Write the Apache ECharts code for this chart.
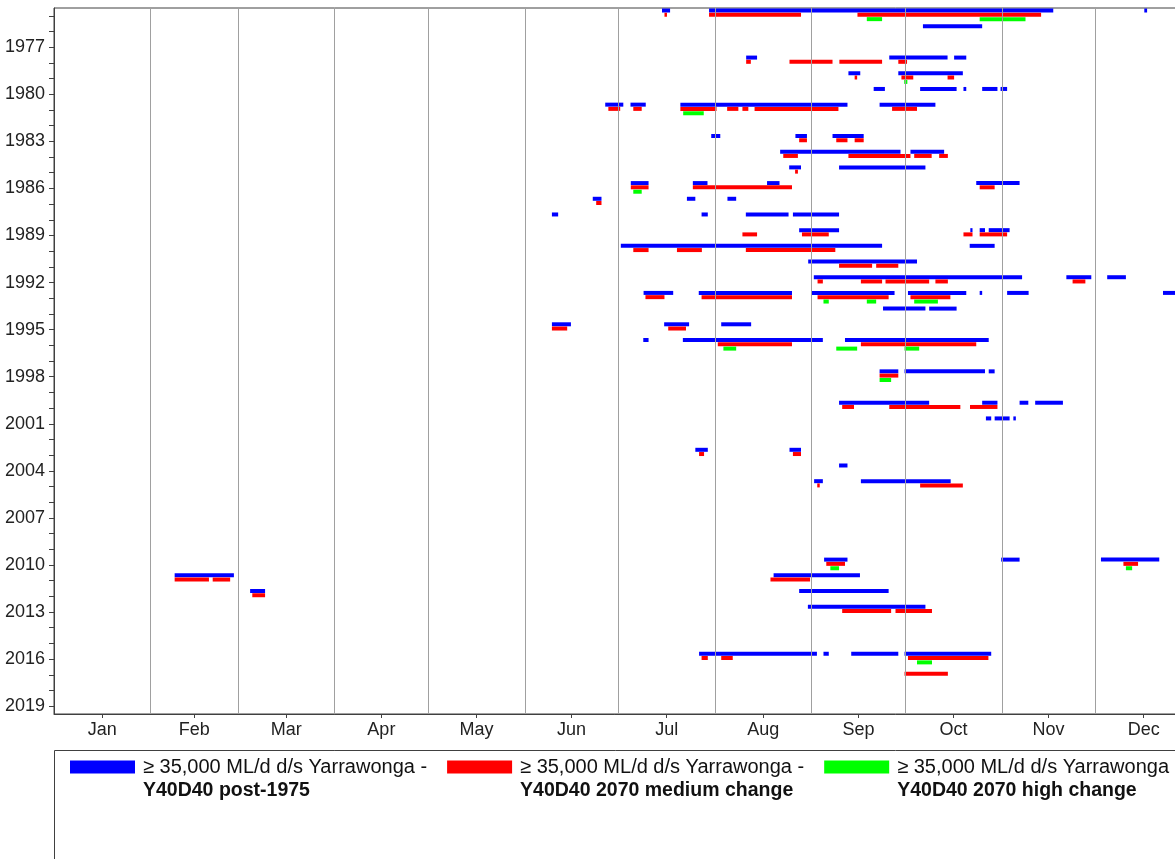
<!DOCTYPE html>
<html>
<head>
<meta charset="utf-8">
<script src="https://cdn.jsdelivr.net/npm/echarts@6.0.0/dist/echarts.min.js"></script>
<style>
  html, body { margin: 0; padding: 0; background: #fff; }
  #chart { width: 1175px; height: 859px; }
</style>
</head>
<body>
<div id="chart"></div>
<script>
// x axis = day of year (0 = 1 Jan), y axis = year
var monthNames = ['Jan', 'Feb', 'Mar', 'Apr', 'May', 'Jun', 'Jul', 'Aug', 'Sep', 'Oct', 'Nov', 'Dec'];
var monthMid = [15.5, 45, 74.5, 105, 135.5, 166, 196.5, 227.5, 258, 288.5, 319, 349.5];
var monthStart = [31, 59, 90, 120, 151, 181, 212, 243, 273, 304, 334];

var years = [];
for (var y = 1975; y <= 2019; y++) years.push(String(y));

var seriesNames = ['Y40D40 post-1975', 'Y40D40 2070 medium change', 'Y40D40 2070 high change'];
var legendPrefix = '\u2265 35,000 ML/d d/s Yarrawonga -';

// [year, start day, end day]
var post1975 = [
  [1975,195.0,197.6],[1975,210.1,320.5],[1975,349.7,350.6],
  [1976,278.7,297.7],
  [1978,222.0,225.5],[1978,267.9,286.6],[1978,288.7,292.6],
  [1979,254.8,258.6],[1979,270.8,291.5],
  [1980,262.9,266.5],[1980,277.8,289.5],[1980,291.7,292.6],[1980,297.7,302.6],[1980,303.6,305.7],
  [1981,176.8,182.6],[1981,184.9,189.8],[1981,200.9,254.5],[1981,264.8,282.7],
  [1983,210.8,213.7],[1983,237.8,241.5],[1983,249.7,259.7],
  [1984,232.9,271.5],[1984,274.7,285.5],
  [1985,235.8,239.6],[1985,251.8,279.5],
  [1986,185.0,190.7],[1986,204.9,209.6],[1986,228.7,232.7],[1986,295.8,309.7],
  [1987,172.8,175.6],[1987,203.0,205.7],[1987,216.0,218.8],
  [1988,159.7,161.7],[1988,207.7,209.7],[1988,221.9,235.6],[1988,237.0,251.8],
  [1989,239.0,251.8],[1989,293.9,294.6],[1989,296.9,298.6],[1989,299.8,306.5],
  [1990,181.8,265.6],[1990,293.7,301.7],
  [1991,241.9,276.8],
  [1992,243.7,310.5],[1992,324.7,332.7],[1992,337.8,343.8],
  [1993,189.1,198.6],[1993,206.8,236.7],[1993,243.1,269.6],[1993,273.9,292.6],[1993,296.9,297.7],[1993,305.7,312.6],[1993,355.7,362.0],
  [1994,265.9,279.5],[1994,280.7,289.5],
  [1995,159.7,165.8],[1995,195.7,203.7],[1995,214.0,223.6],
  [1996,189.0,190.7],[1996,201.7,246.6],[1996,253.7,299.8],
  [1998,264.8,270.8],[1998,272.8,298.6],[1998,299.8,301.7],
  [2000,251.8,280.7],[2000,297.7,302.6],[2000,309.7,312.5],[2000,314.7,323.6],
  [2001,298.9,300.6],[2001,301.7,306.5],[2001,307.7,308.5],
  [2003,205.7,209.7],[2003,235.9,239.6],
  [2004,251.8,254.5],
  [2005,243.8,246.6],[2005,258.8,287.6],
  [2010,247.0,254.5],[2010,303.8,309.7],[2010,335.8,354.5],
  [2011,38.7,57.7],[2011,230.8,258.5],
  [2012,62.9,67.7],[2012,239.0,267.7],
  [2013,241.8,279.5],
  [2016,206.9,244.7],[2016,246.8,248.5],[2016,255.7,270.8],[2016,272.8,300.6]
];

var medium2070 = [
  [1975,195.8,196.6],[1975,210.1,239.6],[1975,257.7,316.6],
  [1978,222.0,223.5],[1978,235.9,249.7],[1978,251.9,265.6],[1978,270.8,273.6],
  [1979,256.8,257.6],[1979,271.8,275.6],[1979,286.6,288.7],
  [1981,177.8,181.6],[1981,185.8,188.5],[1981,200.9,212.5],[1981,215.9,219.5],[1981,220.8,222.7],[1981,224.7,251.6],[1981,268.8,276.8],
  [1983,239.0,241.5],[1983,250.9,254.5],[1983,256.8,259.7],
  [1984,233.9,238.6],[1984,254.8,274.7],[1984,275.9,281.5],[1984,283.9,286.7],
  [1985,237.7,238.6],
  [1986,185.0,190.7],[1986,204.9,236.7],[1986,296.9,301.7],
  [1987,173.9,175.6],
  [1989,220.8,225.5],[1989,239.9,248.5],[1989,291.7,294.6],[1989,296.9,305.7],
  [1990,185.8,190.7],[1990,199.8,207.8],[1990,221.9,250.6],
  [1991,251.8,262.4],[1991,263.7,270.8],
  [1992,244.9,246.6],[1992,258.8,265.6],[1992,266.7,280.7],[1992,282.7,286.7],[1992,326.7,330.8],
  [1993,189.7,195.8],[1993,207.7,236.7],[1993,244.9,267.7],[1993,274.7,287.5],
  [1995,159.7,164.6],[1995,197.0,202.7],
  [1996,212.9,236.7],[1996,258.8,295.8],
  [1998,264.8,270.8],
  [2000,252.8,256.6],[2000,267.9,290.7],[2000,293.8,302.6],
  [2003,206.9,208.5],[2003,237.0,239.6],
  [2005,244.8,245.6],[2005,277.8,291.5],
  [2010,247.7,253.7],[2010,343.0,347.7],
  [2011,38.7,49.7],[2011,50.9,56.5],[2011,229.8,242.5],
  [2012,63.6,67.7],
  [2013,252.8,268.5],[2013,269.9,281.6],
  [2016,207.7,209.7],[2016,214.0,217.7],[2016,273.9,299.7],
  [2017,272.8,286.7]
];

var high2070 = [
  [1975,260.7,265.6],[1975,296.9,311.6],
  [1979,272.7,273.7],
  [1981,201.8,208.4],
  [1986,185.8,188.5],
  [1993,246.8,248.5],[1993,260.7,263.7],[1993,275.9,283.5],
  [1996,214.7,218.8],[1996,250.9,257.6],[1996,272.8,277.5],
  [1998,264.8,268.5],
  [2010,249.0,251.8],[2010,343.8,345.8],
  [2016,276.8,281.6]
];

var axisFont = "'Liberation Sans', Arial, sans-serif";
var textFont = "'Liberation Sans', Arial, sans-serif";

// one horizontal bar per event, shifted inside the year row (offset in rows)
function barSeries(name, data, color, offset) {
  return {
    name: name,
    type: 'custom',
    z: 3,
    clip: true,
    itemStyle: { color: color },
    encode: { x: [1, 2], y: 0 },
    data: data.map(function (d) { return [String(d[0]), d[1], d[2]]; }),
    renderItem: function (params, api) {
      var yi = api.value(0);
      var p0 = api.coord([api.value(1), yi]);
      var p1 = api.coord([api.value(2), yi]);
      var band = api.size([0, 1])[1];
      var cy = p0[1] + offset * band;
      return {
        type: 'rect',
        shape: { x: p0[0], y: cy - 2, width: Math.max(p1[0] - p0[0], 1.5), height: 4 },
        style: { fill: color }
      };
    }
  };
}

var myChart = echarts.init(document.getElementById('chart'));

var option = {
  animation: false,
  backgroundColor: '#fff',
  grid: {
    left: 54,
    top: 8,
    right: -17,
    bottom: 145,
    show: true,
    borderColor: '#404040',
    borderWidth: 1,
    containLabel: false,
    outerBoundsMode: 'none'
  },
  xAxis: {
    type: 'value',
    min: 0,
    max: 365,
    axisLine: { show: true, lineStyle: { color: '#404040' } },
    axisTick: { show: true, customValues: monthMid, length: 4, lineStyle: { color: '#404040' } },
    axisLabel: {
      customValues: monthMid,
      formatter: function (v) { return monthNames[monthMid.indexOf(v)]; },
      fontFamily: axisFont,
      fontSize: 18,
      color: '#222',
      margin: 7
    },
    splitLine: { show: false }
  },
  yAxis: {
    type: 'category',
    data: years,
    inverse: true,
    boundaryGap: true,
    axisLine: { show: true, lineStyle: { color: '#404040' } },
    axisTick: { show: true, alignWithLabel: true, interval: 0, length: 5, lineStyle: { color: '#404040' } },
    axisLabel: {
      interval: function (index, value) { return (Number(value) - 1977) % 3 === 0; },
      fontFamily: axisFont,
      fontSize: 18,
      color: '#222',
      margin: 9
    },
    splitLine: { show: false }
  },
  legend: {
    left: 70,
    top: 731,
    width: 1150,
    padding: 0,
    icon: 'rect',
    itemWidth: 65,
    itemHeight: 13,
    itemGap: 20,
    data: seriesNames,
    formatter: function (name) { return legendPrefix + '\n{b|' + name + '}'; },
    textStyle: {
      fontFamily: textFont,
      fontSize: 20,
      color: '#111',
      lineHeight: 24,
      width: 280,
      padding: [24, 0, 0, 3],
      rich: { b: { fontFamily: textFont, fontSize: 19.5, fontWeight: 'bold', lineHeight: 24, color: '#111' } }
    }
  },
  graphic: [{
    type: 'rect',
    z: 0,
    shape: { x: 54.5, y: 750.5, width: 1300, height: 300 },
    style: { fill: 'none', stroke: '#404040', lineWidth: 1 }
  }],
  series: [
    {
      // month boundary grid lines
      type: 'line',
      z: 1,
      data: [],
      silent: true,
      markLine: {
        silent: true,
        symbol: ['none', 'none'],
        label: { show: false },
        lineStyle: { color: '#a0a0a0', type: 'solid', width: 1 },
        data: monthStart.map(function (v) { return { xAxis: v }; })
      }
    },
    barSeries(seriesNames[0], post1975, '#0000ff', -0.34),
    barSeries(seriesNames[1], medium2070, '#ff0000', -0.07),
    barSeries(seriesNames[2], high2070, '#00ff00', 0.21)
  ]
};
myChart.setOption(option);
</script>
</body>
</html>
